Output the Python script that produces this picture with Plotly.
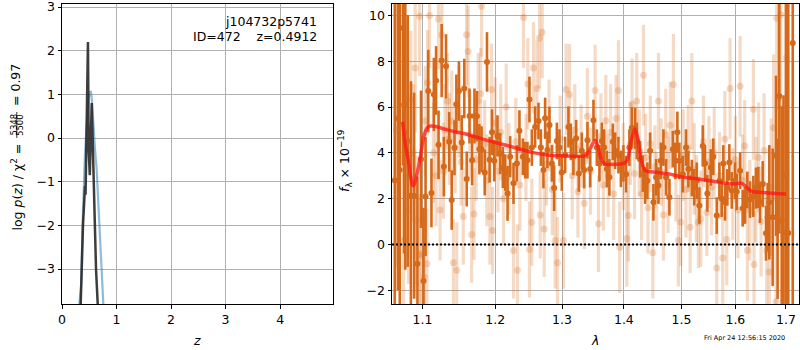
import math
import plotly.graph_objects as go

# ---------------- left panel: p(z) ----------------
z_blue = [0.318, 0.349, 0.380, 0.400, 0.422, 0.445, 0.465, 0.490, 0.514, 0.530, 0.550,
          0.575, 0.605, 0.636, 0.665, 0.697, 0.730, 0.758]
logp_blue = [-3.80, -3.40, -1.87, -1.00, -0.34, 0.15, 0.58, 0.92, 1.06, 1.06, 0.85,
             0.28, -0.25, -0.72, -1.40, -2.25, -3.00, -3.80]

z_black = [0.343, 0.385, 0.422, 0.425, 0.432, 0.436, 0.476, 0.490, 0.510, 0.545,
           0.575, 0.600, 0.624, 0.655]
logp_black = [-3.80, -2.00, -1.10, -1.30, -1.30, -1.00, 2.20, -0.30, -0.85, 0.80,
              -0.80, -2.00, -3.00, -3.80]

# ---------------- right panel: spectrum ----------------
wave_dark = [1.0640, 1.0680, 1.0704, 1.0745, 1.0760, 1.0775, 1.0807, 1.0848, 1.0890, 1.0933,
             1.0980, 1.1013, 1.1040, 1.1076, 1.1118, 1.1150, 1.1180, 1.1213, 1.1255, 1.1285,
             1.1314, 1.1357, 1.1391, 1.1429, 1.1455, 1.1490, 1.1529, 1.1564, 1.1598, 1.1637,
             1.1673, 1.1706, 1.1740, 1.1775, 1.1806, 1.1851, 1.1883, 1.1920, 1.1955, 1.1986,
             1.2033, 1.2072, 1.2111, 1.2146, 1.2179, 1.2218, 1.2266, 1.2316, 1.2354, 1.2405,
             1.2439, 1.2473, 1.2503, 1.2539, 1.2588, 1.2639, 1.2675, 1.2714, 1.2740, 1.2775,
             1.2806, 1.2843, 1.2878, 1.2920, 1.2960, 1.2997, 1.3049, 1.3101, 1.3138, 1.3179,
             1.3222, 1.3265, 1.3312, 1.3349, 1.3402, 1.3446, 1.3499, 1.3554, 1.3596, 1.3635,
             1.3673, 1.3717, 1.3759, 1.3816, 1.3854, 1.3909, 1.3950, 1.3992, 1.4037, 1.4093,
             1.4134, 1.4190, 1.4218, 1.4275, 1.4320, 1.4361, 1.4400, 1.4447, 1.4504, 1.4551,
             1.4592, 1.4633, 1.4679, 1.4726, 1.4785, 1.4845, 1.4890, 1.4926, 1.4962, 1.5024,
             1.5082, 1.5124, 1.5187, 1.5230, 1.5277, 1.5325, 1.5387, 1.5430, 1.5472, 1.5535,
             1.5583, 1.5647, 1.5696, 1.5740, 1.5771, 1.5803, 1.5847, 1.5885, 1.5931, 1.5994,
             1.6026, 1.6091, 1.6142, 1.6187, 1.6231, 1.6284, 1.6348, 1.6400, 1.6446, 1.6479,
             1.6533, 1.6598, 1.6630, 1.6664, 1.6731, 1.6798, 1.6830, 1.6864, 1.6913, 1.6950,
             1.7000, 1.7047, 1.7138]
flux_dark = [2.80, 5.50, 3.25, 9.45, 6.10, 4.90, 4.52, 2.13, 2.13, -0.84,
             3.72, -1.60, 2.09, 6.70, 2.25, 6.55, 7.16, 4.35, 8.03, 3.40,
             7.78, 4.48, 1.94, 4.22, 6.12, 6.70, 4.45, 6.81, 2.86, 5.61,
             3.68, 5.61, 5.60, 4.16, 4.16, 3.14, 7.97, 3.70, 4.90, 3.65,
             4.74, 3.97, 3.36, 3.14, 2.23, 3.83, 2.67, 3.54, 4.96, 3.83,
             3.68, 3.68, 6.33, 4.23, 5.13, 5.39, 4.23, 3.25, 5.51, 4.13,
             5.22, 3.54, 2.46, 4.52, 4.23, 3.14, 3.91, 5.13, 4.48, 3.83,
             4.64, 3.10, 4.09, 3.25, 4.55, 3.29, 5.42, 4.23, 3.54, 4.52,
             4.23, 3.29, 2.93, 4.48, 4.09, 3.90, 3.30, 3.54, 3.07, 4.23,
             5.10, 5.07, 4.52, 3.72, 3.10, 2.57, 2.78, 4.09, 1.84, 2.93,
             2.57, 3.65, 4.23, 2.93, 2.06, 4.16, 3.65, 4.90, 3.65, 3.07,
             4.23, 3.29, 2.90, 2.50, 2.78, 1.70, 4.30, 3.54, 2.23, 3.36,
             3.83, 1.26, 2.78, 2.00, 3.54, 1.84, 2.49, 3.58, 2.36, 2.78,
             2.30, 3.22, 1.58, 1.70, 2.38, 1.96, 2.10, 2.46, 2.49, 1.84,
             2.64, 0.49, 1.19, 1.84, 1.19, 3.87, 1.12, 6.48, 1.04, 0.51,
             3.00, 0.50, 8.80]
err_dark = [8.0, 7.5, 8.0, 6.0, 6.5, 6.0, 5.5, 5.0, 4.5, 3.8,
            3.0, 3.2, 2.6, 1.8, 1.5, 1.6, 1.5, 1.5, 1.6, 1.3,
            1.4, 1.3, 1.3, 1.2, 1.3, 1.3, 1.2, 1.3, 1.2, 1.2,
            1.1, 1.2, 1.1, 1.1, 1.0, 1.0, 1.3, 1.0, 1.0, 0.9,
            0.9, 0.9, 0.9, 0.8, 1.2, 0.9, 0.9, 0.8, 0.9, 0.8,
            0.8, 0.8, 1.0, 0.8, 0.9, 0.8, 0.8, 0.8, 0.9, 0.8,
            0.8, 0.8, 1.0, 0.8, 0.8, 0.8, 0.8, 0.9, 0.8, 0.8,
            0.8, 0.8, 0.8, 0.8, 0.8, 0.8, 0.9, 0.8, 0.8, 0.8,
            0.8, 0.8, 0.8, 0.8, 0.8, 0.8, 0.8, 0.8, 0.8, 0.8,
            0.9, 0.9, 0.8, 0.8, 0.8, 0.8, 0.8, 0.8, 0.8, 0.8,
            0.8, 0.8, 0.8, 0.8, 0.8, 0.8, 0.8, 0.9, 0.8, 0.8,
            0.8, 0.8, 0.8, 0.8, 0.8, 0.8, 0.9, 0.8, 0.8, 0.8,
            0.8, 0.8, 0.8, 0.8, 0.8, 0.8, 0.8, 0.8, 0.8, 0.8,
            0.8, 0.8, 0.8, 0.8, 0.8, 0.8, 0.9, 0.9, 0.9, 0.9,
            1.0, 1.2, 1.5, 2.5, 3.0, 3.5, 3.5, 6.0, 5.0, 6.0,
            8.0, 10.0, 12.0]

wave_light = [1.0660, 1.0753, 1.0790, 1.0817, 1.0848, 1.0880, 1.0904, 1.0917, 1.0961, 1.0965,
              1.0979, 1.1022, 1.1036, 1.1058, 1.1066, 1.1092, 1.1145, 1.1180, 1.1212, 1.1234,
              1.1257, 1.1278, 1.1300, 1.1332, 1.1360, 1.1392, 1.1414, 1.1437, 1.1460, 1.1490,
              1.1520, 1.1550, 1.1596, 1.1618, 1.1640, 1.1666, 1.1700, 1.1730, 1.1759, 1.1792,
              1.1806, 1.1850, 1.1880, 1.1924, 1.1948, 1.1963, 1.2000, 1.2040, 1.2080, 1.2120,
              1.2160, 1.2200, 1.2266, 1.2300, 1.2325, 1.2360, 1.2414, 1.2450, 1.2479, 1.2503,
              1.2539, 1.2563, 1.2615, 1.2654, 1.2665, 1.2695, 1.2726, 1.2760, 1.2800, 1.2850,
              1.2894, 1.2930, 1.2970, 1.3023, 1.3065, 1.3117, 1.3160, 1.3200, 1.3250, 1.3300,
              1.3350, 1.3400, 1.3450, 1.3526, 1.3580, 1.3620, 1.3660, 1.3700, 1.3740, 1.3780,
              1.3830, 1.3870, 1.3909, 1.3930, 1.3990, 1.4049, 1.4076, 1.4110, 1.4138, 1.4180,
              1.4218, 1.4260, 1.4300, 1.4332, 1.4370, 1.4410, 1.4450, 1.4494, 1.4530, 1.4560,
              1.4592, 1.4640, 1.4679, 1.4720, 1.4760, 1.4800, 1.4856, 1.4900, 1.4944, 1.4987,
              1.5030, 1.5080, 1.5120, 1.5156, 1.5187, 1.5230, 1.5270, 1.5307, 1.5351, 1.5400,
              1.5461, 1.5500, 1.5550, 1.5600, 1.5647, 1.5700, 1.5760, 1.5800, 1.5836, 1.5899,
              1.5950, 1.6000, 1.6050, 1.6091, 1.6140, 1.6180, 1.6231, 1.6280, 1.6348, 1.6362,
              1.6400, 1.6450, 1.6500, 1.6560, 1.6612, 1.6664, 1.6700, 1.6750, 1.6798, 1.6812,
              1.6850, 1.6893, 1.7001]
flux_light = [5.00, 0.17, 6.35, 1.48, 6.33, 4.00, 7.70, 1.07, 9.96, -0.41,
              -0.48, -1.42, 5.39, -0.84, 7.06, 10.00, 4.01, 3.00, 9.85, 1.50,
              9.16, 3.22, 5.00, 6.26, 4.60, 5.39, -0.80, 4.23, -1.13, 5.80,
              3.60, 1.22, 9.16, 8.43, 4.80, 0.43, 1.33, 3.70, 6.26, 6.58,
              10.40, 4.40, 2.80, 1.22, 6.77, 0.61, 5.30, 3.20, 4.90, 2.00,
              6.00, 3.30, -0.26, 4.50, -1.13, 2.60, 9.91, 3.80, 7.01, -0.22,
              0.97, 7.71, 6.81, 9.01, 1.29, 9.27, 0.68, 3.50, 5.20, 2.40,
              0.17, -0.80, 4.60, 0.17, 6.77, 6.55, 3.00, 5.00, 2.30, 4.30,
              1.80, 5.60, 3.20, 6.72, 0.90, 4.70, 2.60, 5.40, 3.00, 4.90,
              2.20, 5.50, 6.72, -0.12, 3.40, 0.25, 1.26, 4.40, 6.12, 3.10,
              6.26, 4.00, 2.20, 7.39, 3.80, 1.60, 4.40, -0.36, 3.40, 2.00,
              6.26, 3.60, 1.29, 4.80, 2.60, 5.20, 6.99, 3.00, 0.17, 0.97,
              3.90, 2.40, 4.20, 0.75, 6.26, 3.30, 2.00, 0.97, 1.12, 4.50,
              1.40, 3.60, 2.50, 4.00, -1.03, 3.00, -0.59, 4.60, 0.22, 6.81,
              2.20, 3.70, 1.50, 6.91, 2.80, 4.30, -0.26, 1.50, 5.90, -0.88,
              2.40, 3.80, 1.00, 4.10, -0.26, -1.20, 2.50, 5.10, -2.50, 9.88,
              6.41, 10.03, 8.14]
err_light = [6.0, 3.5, 3.5, 3.2, 3.0, 3.0, 2.8, 2.8, 2.6, 2.6,
             2.5, 2.5, 2.4, 2.4, 2.3, 2.3, 2.2, 2.2, 2.2, 2.2,
             2.1, 2.1, 2.0, 2.1, 2.0, 2.2, 1.9, 2.0, 2.1, 2.0,
             1.9, 2.1, 2.2, 2.0, 1.9, 2.1, 2.0, 1.8, 2.1, 2.0,
             2.2, 1.9, 2.0, 2.1, 2.0, 1.9, 2.0, 1.8, 2.1, 2.0,
             1.9, 2.0, 2.1, 1.9, 2.0, 2.0, 2.2, 1.9, 2.0, 2.1,
             1.9, 2.0, 2.1, 2.2, 1.9, 2.0, 2.1, 1.8, 2.0, 2.0,
             2.1, 2.0, 1.9, 2.1, 2.0, 2.2, 1.9, 2.0, 2.0, 1.8,
             2.0, 2.1, 1.9, 2.0, 2.1, 1.9, 2.0, 2.0, 1.8, 2.1,
             2.0, 1.9, 2.2, 2.0, 1.9, 2.1, 2.0, 1.8, 2.0, 2.0,
             2.1, 1.9, 2.0, 2.2, 1.9, 2.0, 2.1, 2.0, 1.8, 2.0,
             2.1, 1.9, 2.0, 2.0, 2.1, 1.9, 2.2, 2.0, 2.0, 1.9,
             2.0, 2.1, 1.9, 2.0, 2.1, 2.0, 1.9, 2.0, 2.1, 2.0,
             1.9, 2.0, 2.1, 2.0, 2.1, 1.9, 2.0, 2.1, 2.0, 2.2,
             2.0, 1.9, 2.1, 2.2, 2.0, 2.0, 2.2, 2.2, 2.2, 2.3,
             2.3, 2.4, 2.4, 2.5, 2.6, 2.8, 3.0, 3.2, 3.5, 4.0,
             4.5, 5.0, 6.0]

wave_model = [1.0740, 1.0775, 1.0815, 1.0863, 1.0883, 1.0915, 1.0970, 1.1013, 1.1058, 1.1095,
              1.1180, 1.1280, 1.1400, 1.1600, 1.1800, 1.2000, 1.2200, 1.2560, 1.2800, 1.3000,
              1.3366, 1.3430, 1.3499, 1.3530, 1.3570, 1.3620, 1.3690, 1.3850, 1.4000, 1.4060,
              1.4120, 1.4184, 1.4230, 1.4290, 1.4366, 1.4550, 1.4797, 1.5000, 1.5245, 1.5600,
              1.5960, 1.6122, 1.6316, 1.6600, 1.7000]
flux_model = [5.36, 4.38, 3.65, 2.65, 2.55, 2.90, 3.80, 4.67, 5.07, 5.17,
              5.15, 5.05, 4.95, 4.81, 4.62, 4.45, 4.30, 4.01, 3.90, 3.87,
              3.87, 4.10, 4.45, 4.55, 4.30, 3.75, 3.51, 3.50, 3.54, 3.70,
              4.50, 5.05, 4.70, 3.70, 3.22, 3.15, 3.07, 2.95, 2.88, 2.75,
              2.64, 2.67, 2.32, 2.26, 2.20]

left_xticks = [0, 1, 2, 3, 4]
left_yticks = [-3, -2, -1, 0, 1, 2, 3]
right_xticks = [1.1, 1.2, 1.3, 1.4, 1.5, 1.6, 1.7]
right_yticks = [-2, 0, 2, 4, 6, 8, 10]

W, H = 800, 350
FONT = "DejaVu Sans"
DARK = "rgb(214,106,26)"
LIGHT = "rgba(214,106,26,0.25)"


def px(x):
    return x / W


def py(y):
    return 1 - y / H


fig = go.Figure()

# left panel
fig.add_trace(go.Scatter(x=z_blue, y=logp_blue, mode="lines", xaxis="x", yaxis="y",
                         line=dict(color="rgba(31,119,180,0.5)", width=2.2), showlegend=False))
fig.add_trace(go.Scatter(x=z_black, y=logp_black, mode="lines", xaxis="x", yaxis="y",
                         line=dict(color="rgba(40,40,40,0.9)", width=2.5), showlegend=False))

# right panel
fig.add_trace(go.Scatter(x=wave_dark, y=flux_dark, mode="markers", xaxis="x2", yaxis="y2",
                         marker=dict(color=DARK, size=6, line=dict(width=0)),
                         error_y=dict(type="data", array=err_dark, color=DARK, thickness=2.6, width=0),
                         showlegend=False))
fig.add_trace(go.Scatter(x=wave_light, y=flux_light, mode="markers", xaxis="x2", yaxis="y2",
                         marker=dict(color=LIGHT, size=7, line=dict(width=0)),
                         error_y=dict(type="data", array=err_light, color=LIGHT, thickness=3.2, width=0),
                         showlegend=False))
fig.add_trace(go.Scatter(x=wave_model, y=flux_model, mode="lines", xaxis="x2", yaxis="y2",
                         line=dict(color="rgba(255,20,20,0.75)", width=3.5, shape="spline", smoothing=0.6),
                         showlegend=False))

axis_common = dict(showline=True, mirror=True, linecolor="black", linewidth=1,
                   ticks="outside", ticklen=3.5, tickwidth=1, tickcolor="black",
                   showgrid=True, gridcolor="#b0b0b0", gridwidth=1, zeroline=False,
                   ticklabeloverflow="allow",
                   tickfont=dict(family=FONT, size=12.5, color="black"), automargin=False)

ydom = [py(304), py(4)]
fig.update_layout(
    width=W, height=H, autosize=False,
    margin=dict(l=0, r=0, t=0, b=0),
    paper_bgcolor="white", plot_bgcolor="white",
    xaxis=dict(domain=[px(62), px(333)], range=[0, 4.97], tickvals=left_xticks,
               anchor="y", **axis_common),
    yaxis=dict(domain=ydom, range=[-3.8, 3.07], tickvals=left_yticks,
               anchor="x", **axis_common),
    xaxis2=dict(domain=[px(392), px(799)], type="log",
                range=[math.log10(1.0605), math.log10(1.7267)],
                tickvals=right_xticks, ticktext=[f"{v:.1f}" for v in right_xticks],
                anchor="y2", **axis_common),
    yaxis2=dict(domain=ydom, range=[-2.6, 10.5], tickvals=right_yticks,
                anchor="x2", **axis_common),
)

# dotted zero line
fig.add_shape(type="line", xref="x2 domain", x0=0, x1=1, yref="y2", y0=0, y1=0,
              line=dict(color="black", width=2, dash="2px,2px"), layer="above")

ann = []
tf = dict(family=FONT, size=12.5, color="black")
# object labels
ann.append(dict(text="j104732p5741", x=px(319), y=py(21), xref="paper", yref="paper",
                xanchor="right", yanchor="middle", showarrow=False, font=tf))
ann.append(dict(text="ID=472\u00a0\u00a0\u00a0\u00a0z=0.4912", x=px(319), y=py(36), xref="paper",
                yref="paper", xanchor="right", yanchor="middle", showarrow=False, font=tf))
# x titles
ann.append(dict(text="<i>z</i>", x=px(197), y=py(340), xref="paper", yref="paper",
                xanchor="center", yanchor="middle", showarrow=False, font=tf))
ann.append(dict(text="<i>λ</i>", x=px(595), y=py(340), xref="paper", yref="paper",
                xanchor="center", yanchor="middle", showarrow=False, font=tf))
# left y title (pieces)
ann.append(dict(text="log <i>p</i>(<i>z</i>) / χ<sup>2</sup> =", x=px(16), y=py(142),
                xref="paper", yref="paper", xanchor="center", yanchor="top",
                textangle=-90, showarrow=False, font=tf))
ann.append(dict(text="5348", x=px(13.5), y=py(125), xref="paper", yref="paper",
                xanchor="center", yanchor="middle", textangle=-90, showarrow=False,
                font=dict(family=FONT, size=8.5, color="black")))
ann.append(dict(text="5500", x=px(20), y=py(125), xref="paper", yref="paper",
                xanchor="center", yanchor="middle", textangle=-90, showarrow=False,
                font=dict(family=FONT, size=8.5, color="black")))
ann.append(dict(text="= 0.97", x=px(16), y=py(108), xref="paper", yref="paper",
                xanchor="center", yanchor="bottom", textangle=-90, showarrow=False, font=tf))
# right y title
ann.append(dict(text="<i>f</i><sub>λ</sub> × 10<sup>−19</sup>", x=px(345), y=py(161),
                xref="paper", yref="paper", xanchor="center", yanchor="middle",
                textangle=-90, showarrow=False, font=tf))
# timestamp
ann.append(dict(text="Fri Apr 24 12:56:15 2020", x=px(744), y=py(338), xref="paper",
                yref="paper", xanchor="center", yanchor="middle", showarrow=False,
                font=dict(family=FONT, size=6.5, color="black")))
fig.update_layout(annotations=ann)

# fraction bar
fig.add_shape(type="line", xref="paper", yref="paper", x0=px(16.8), x1=px(16.8),
              y0=py(112), y1=py(138), line=dict(color="black", width=0.8))

# remove the default 8px page margin so the 800x350 figure fills the window exactly
fig.write_html("out.html", config={"displayModeBar": False},
               post_script="document.body.style.margin='0px'; document.body.style.overflow='hidden';")
